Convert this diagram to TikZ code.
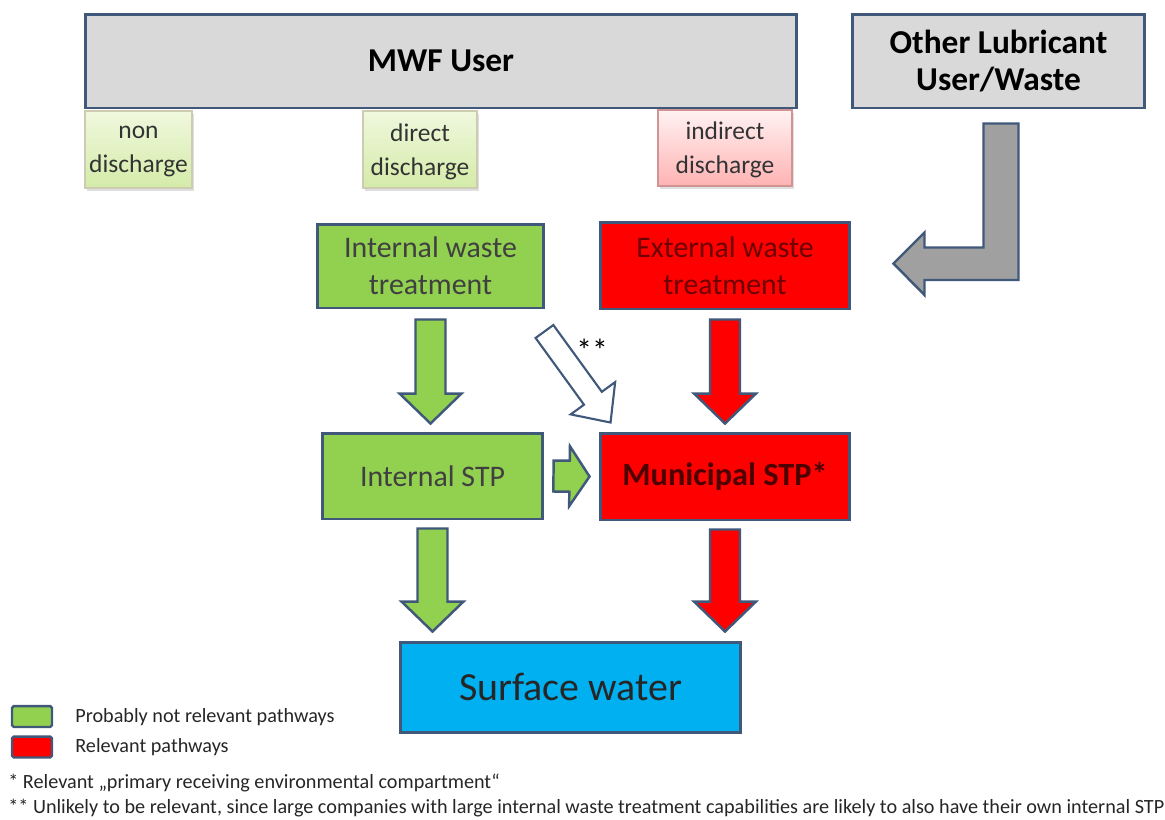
\documentclass[tikz,border=0pt]{standalone}
\usepackage{fontspec}
\setmainfont{Carlito}
\usepackage{xcolor}
\usetikzlibrary{calc,shadows}

\definecolor{edgeblue}{RGB}{64,88,122}
\definecolor{boxgray}{RGB}{217,217,217}
\definecolor{pathgreen}{RGB}{146,208,80}
\definecolor{pathred}{RGB}{255,0,0}
\definecolor{waterblue}{RGB}{0,176,240}
\definecolor{arrowgray}{RGB}{160,160,160}
\definecolor{darkred}{RGB}{110,0,0}
\definecolor{paletop}{RGB}{240,248,222}
\definecolor{palebot}{RGB}{212,235,168}

% block arrow from #2 to #3: shaft half width #4, head half width #5, head length #6
\newcommand{\blockarrow}[6]{%
  \coordinate (ba-h) at ($(#3)!#6!(#2)$);
  \draw[#1] ($(#2)!#4!90:(#3)$) -- ($(ba-h)!#4!90:(#3)$) -- ($(ba-h)!#5!90:(#3)$)
    -- (#3) -- ($(ba-h)!#5!-90:(#3)$) -- ($(ba-h)!#4!-90:(#3)$)
    -- ($(#2)!#4!-90:(#3)$) -- cycle;}

\begin{document}
\begin{tikzpicture}[x=0.02cm, y=-0.02cm,
  bx/.style={draw=edgeblue, line width=1.7pt, inner sep=0pt, align=center},
  user/.style={bx, fill=boxgray, minimum height=1.88cm,
               font=\fontsize{19}{21.5}\selectfont\bfseries},
  disch/.style={draw=#1, line width=0.6pt, inner sep=0pt, align=center,
               minimum height=1.54cm, text=black!80, text depth=-2.5pt,
               drop shadow={opacity=0.25, shadow xshift=1pt, shadow yshift=-1.5pt},
               font=\fontsize{14.5}{19.3}\selectfont},
  gbox/.style={bx, fill=pathgreen, text=black!75, font=\fontsize{17}{21}\selectfont},
  rbox/.style={bx, fill=pathred, text=darkred, font=\fontsize{17}{21}\selectfont},
  garrow/.style={draw=edgeblue, line width=1.4pt, fill=pathgreen, line join=miter},
  rarrow/.style={draw=edgeblue, line width=1.4pt, fill=pathred, line join=miter},
  harrow/.style={draw=edgeblue, line width=1.2pt, fill=white, line join=miter},
  key/.style={draw=edgeblue, line width=1.4pt, rounded corners=1pt,
              minimum width=0.8cm, minimum height=0.42cm, inner sep=0pt},
  note/.style={anchor=west, inner sep=0pt, text=black!85,
               font=\fontsize{11.5}{13}\selectfont}]

\useasboundingbox (0,0) rectangle (1165,819);

% sources
\node[user, minimum width=14.24cm] (mwf) at (441,61) {MWF User};
\node[user, minimum width=5.86cm] (olu) at (998.5,61) {Other Lubricant\\User/Waste};

\node[disch=olive!30!gray!45, minimum width=2.14cm, top color=paletop,
      bottom color=palebot] (nond) at (138.5,149.5) {non\\discharge};
\node[disch=olive!30!gray!45, minimum width=2.28cm, top color=paletop,
      bottom color=palebot] (dird) at (420,149.5) {direct\\discharge};
\node[disch=red!40!gray!60, minimum width=2.68cm, minimum height=1.52cm, top color=red!5,
      bottom color=red!30] (indd) at (725,148) {indirect\\discharge};

% treatment
\node[gbox, minimum width=4.54cm, minimum height=1.68cm] (iwt) at (430.5,266)
  {Internal waste\\treatment};
\node[rbox, minimum width=5cm, minimum height=1.74cm] (ewt) at (725,265.5)
  {External waste\\treatment};
\node[gbox, minimum width=4.42cm, minimum height=1.72cm] (istp) at (432.5,476)
  {Internal STP};
\node[rbox, minimum width=5cm, minimum height=1.74cm, text=black!70!red,
      font=\fontsize{18.4}{21}\selectfont\bfseries] (mstp) at (725,476.5)
  {Municipal STP*};
\node[bx, fill=waterblue, minimum width=6.82cm, minimum height=1.8cm,
      text=black!85, font=\fontsize{22.7}{26}\selectfont] (sw) at (570.5,687)
  {Surface water};

% pathways
\coordinate (g1s) at ($(iwt.south)+(0,10)$);
\coordinate (g1e) at ($(iwt.south |- istp.north)+(0,-8)$);
\blockarrow{garrow}{g1s}{g1e}{0.3cm}{0.62cm}{0.6cm}

\coordinate (r1s) at ($(ewt.south)+(0,9)$);
\coordinate (r1e) at ($(mstp.north)+(0,-8)$);
\blockarrow{rarrow}{r1s}{r1e}{0.3cm}{0.62cm}{0.6cm}

\coordinate (h1s) at ($(iwt.south east)+(-1,22)$);
\coordinate (h1e) at ($(mstp.north west)+(12,-9)$);
\blockarrow{harrow}{h1s}{h1e}{0.22cm}{0.55cm}{0.6cm}
\node[font=\fontsize{18}{20}\selectfont] (ast) at (592,350) {**};

\coordinate (g2s) at ($(istp.east)+(9,0)$);
\coordinate (g2e) at ($(mstp.west)+(-9,0)$);
\blockarrow{garrow}{g2s}{g2e}{0.31cm}{0.6cm}{0.4cm}

\coordinate (g3s) at ($(istp.south)+(0,8)$);
\coordinate (g3e) at ($(istp.south |- sw.north)+(0,-9)$);
\blockarrow{garrow}{g3s}{g3e}{0.3cm}{0.62cm}{0.6cm}

\coordinate (r3s) at ($(mstp.south)+(0,8)$);
\coordinate (r3e) at ($(mstp.south |- sw.north)+(0,-9)$);
\blockarrow{rarrow}{r3s}{r3e}{0.3cm}{0.62cm}{0.6cm}

% other lubricant -> external waste treatment
\coordinate (lt) at ($(olu.south)+(2.5,14)$);
\coordinate (ltip) at ($(ewt.east)+(42,-2)$);
\draw[draw=edgeblue, line width=1.4pt, fill=arrowgray, line join=miter]
  ($(lt)+(-17.5,0)$) -- ($(lt)+(17.5,0)$) |- ($(ltip)+(31,16.5)$) -- ++(0,15)
  -- (ltip) -- ++(31,-31) -- ++(0,15) -| ($(lt)+(-17.5,0)$) -- cycle;

% legend
\node[key, fill=pathgreen] (kg) at (32,716.5) {};
\node[key, fill=pathred] (kr) at (32,747) {};
\node[note] (kgt) at (75,717) {Probably not relevant pathways};
\node[note] (krt) at (75,747) {Relevant pathways};
\node[note] (n1) at (8,783) {* Relevant „primary receiving environmental compartment“};
\node[note] (n2) at (8,808) {** Unlikely to be relevant, since large companies with large
  internal waste treatment capabilities are likely to also have their own internal STP};
\end{tikzpicture}
\end{document}
